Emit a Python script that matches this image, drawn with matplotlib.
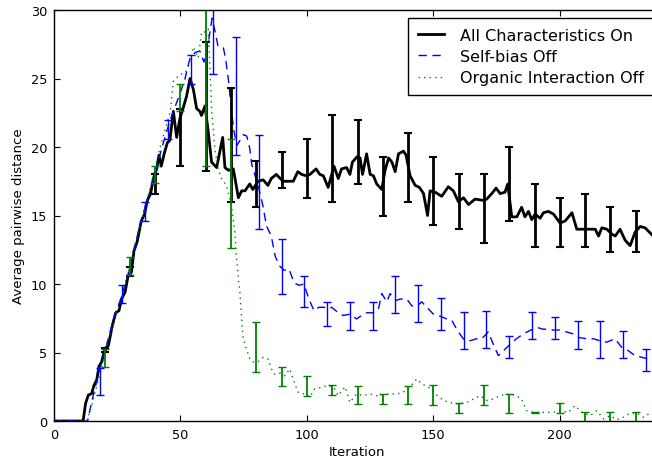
import matplotlib
matplotlib.use("Agg")
import matplotlib.pyplot as plt
import numpy as np

# mean curves (iteration, average pairwise distance)
on_x = [0, 11.5, 12.5, 13.6, 14.9, 15.8, 16.9, 17.8, 18.8, 20.2, 21.5, 23.1, 24.4, 25.7,
        26.7, 28.1, 29.3, 30.6, 31.6, 32.9, 34.5, 35.8, 36.9, 38.2, 39.3, 40.6, 41.5, 42.4,
        43.7, 44.8, 45.8, 47.2, 48.5, 49.8, 51, 52.4, 53.8, 55.1, 56.4, 57.7, 58.3, 59.7,
        61, 62.3, 64.3, 66.7, 67.6, 69, 70.9, 72.9, 74.2, 75.5, 77.4, 78.6, 80.7, 82.7,
        84.6, 85.9, 87.9, 90.5, 93.1, 94.6, 96.4, 97.9, 99.7, 101.2, 103.6, 105.1, 106.5,
        108.4, 110.7, 112.4, 113.7, 115.7, 117, 118, 119.9, 121, 122, 123.6, 125, 126.3,
        127.6, 129.6, 130.9, 132.3, 133.6, 134.9, 136.2, 138.2, 139.2, 140.8, 142.8, 144.5,
        146.1, 147.7, 148.7, 150.7, 153.3, 155.9, 157.9, 159.9, 161.9, 163.9, 166.5, 169.8,
        171.1, 173.1, 174.8, 176.4, 178.3, 179.4, 181, 183, 184.9, 186.2, 187.6, 188.9,
        190.2, 192.2, 193.5, 195.5, 197.5, 200.1, 202.1, 204.8, 206.7, 209.4, 212, 214,
        215.3, 216.6, 218.6, 220.5, 221.9, 223.8, 225.8, 227.8, 229.8, 231.8, 233.7, 236.4]
on_y = [0, 0, 1.3, 1.9, 2.0, 2.6, 3.0, 4.0, 4.3, 5.3, 5.5, 7.0, 7.9, 8.05,
        8.9, 9.4, 10.6, 10.85, 12.4, 13.1, 14.6, 15.1, 16.1, 16.6, 17.7, 18.4, 19.4, 18.6,
        19.6, 20.3, 20.5, 22.6, 20.7, 22.1, 22.8, 23.7, 25.0, 24.2, 22.8, 22.6, 22.3, 23.0,
        21.1, 18.9, 18.5, 20.7, 18.5, 18.3, 18.4, 16.3, 16.8, 16.8, 17.3, 16.9, 17.5, 17.6,
        17.2, 17.7, 18.0, 17.5, 17.5, 17.5, 18.2, 18.0, 17.9, 18.0, 18.4, 18.0, 17.9,
        17.05, 18.6, 17.7, 18.4, 18.5, 18.0, 18.9, 19.3, 19.2, 18.0, 19.5, 18.0, 17.9,
        17.3, 16.9, 18.3, 19.2, 18.9, 18.2, 19.5, 19.7, 19.4, 17.9, 17.2, 17.05,
        16.6, 15.0, 16.8, 16.7, 16.4, 17.1, 16.8, 16.0, 16.3, 15.8, 16.2, 16.1,
        16.2, 16.6, 17.0, 16.6, 16.7, 17.3, 14.9, 14.9, 15.6, 14.9, 15.3, 14.7,
        15.1, 14.8, 15.2, 15.3, 15.1, 14.45, 14.6, 15.2, 14.0, 14.0, 14.0, 14.0,
        13.5, 14.1, 14.0, 13.65, 13.5, 14.0, 13.2, 12.8, 13.8, 14.2, 14.1, 13.6]

selfbias_x = [0, 13.3, 14.9, 16.5, 18, 20, 22, 24, 26, 28, 30, 32, 34, 36, 38, 40, 42, 44,
              46, 48, 50, 51.8, 53.8, 55.8, 57.7, 59.3, 61, 62.5, 63.5, 64.8, 66.9, 67.9,
              69.1, 69.7, 71, 72.3, 74.9, 76.2, 77.4, 78.2, 80.7, 82.5, 84, 85.9, 87.5,
              89.3, 90.9, 92.9, 94.9, 96.9, 98.8, 100.8, 102.8, 104.7, 106.7, 108.7, 109.8,
              112.4, 114.4, 117, 119.6, 121.6, 123.6, 126.3, 128.3, 129.6, 131.6, 132.9,
              135.2, 136.9, 139.5, 141.5, 143.7, 145.4, 147.4, 150, 152, 155.3, 157.3,
              159.2, 161.8, 164.5, 167.1, 169.1, 171.7, 173.7, 175.7, 177.7, 179.8, 182.8,
              185.5, 188.1, 190.8, 193.4, 195.4, 197.4, 200.1, 202.7, 205.4, 207.4, 210.7,
              213.3, 215.8, 218.5, 221.8, 224.5, 227.1, 229.7, 232.4, 235.5]
selfbias_y = [0, 0, 1.4, 2.6, 3.8, 5.0, 6.4, 7.7, 8.7, 9.9, 11.2, 12.8, 14.3, 15.6, 16.8,
              18.2, 19.5, 20.8, 22.0, 23.0, 24.0, 25.0, 26.5, 26.9, 27.0, 26.2, 27.6, 29.4,
              28.6, 27.4, 27.3, 26.4, 24.7, 23.5, 21.3, 20.1, 20.9, 20.8, 19.9, 18.7, 17.2,
              15.8, 14.25, 13.5, 12.0, 11.3, 11.0, 11.1, 10.1, 9.9, 10.0, 8.9, 8.05, 8.3,
              8.3, 8.2, 8.3, 7.9, 7.7, 7.8, 7.45, 7.7, 7.9, 7.9, 8.2, 9.3, 8.7, 9.3, 8.8,
              8.9, 8.9, 8.4, 8.4, 8.7, 8.3, 7.8, 7.7, 7.45, 7.35, 6.7, 6.0, 5.86, 6.0, 6.0,
              6.5, 5.6, 4.77, 5.13, 5.5, 6.0, 6.35, 6.6, 6.84, 6.7, 6.7, 6.64, 6.64, 6.5,
              6.35, 6.1, 6.0, 6.0, 5.86, 5.75, 6.0, 5.37, 5.13, 4.77, 4.65, 4.5]

organic_x = [0, 13, 15, 17, 20, 22, 25, 27, 30, 32, 35, 38, 40, 42, 44, 46, 47.2, 49.8,
             51.8, 53, 55.1, 57, 58.4, 60.3, 61, 61.7, 62.3, 63, 63.6, 64.9, 66.2, 68.2,
             70.2, 71.5, 72.2, 72.8, 73.5, 74.2, 74.8, 76.1, 77.5, 78.8, 80.1, 81.4, 82.7,
             84.7, 86, 87.3, 89.3, 91.3, 93.2, 94.5, 96.5, 99.1, 101.1, 103, 105.7, 108,
             110.5, 112.4, 115.1, 117, 119.6, 122.3, 124.9, 127.6, 131.5, 135.5, 138.1,
             140.8, 143.4, 145.4, 148, 150.7, 153.3, 155.9, 159.9, 163.2, 165.8, 168.5,
             171.1, 173.7, 176.4, 179, 182.3, 184.9, 186.9, 189.5, 193.4, 197.4, 200.1,
             203.4, 206, 208.7, 212, 214.6, 217.3, 219.9, 222.5, 225.2, 227.8, 230.4,
             233.1, 235.7]
organic_y = [0, 0, 1.2, 2.6, 4.8, 6.2, 7.9, 9.3, 11.4, 12.9, 14.9, 17.0, 18.5, 20.0, 21.3,
             22.6, 24.8, 25.3, 25.4, 25.8, 27.3, 26.5, 28.4, 28.4, 28.6, 25.6, 22.8, 21.3,
             19.85, 18.4, 17.7, 17.2, 15.7, 13.8, 11.8, 10.6, 9.4, 7.45, 6.0, 5.26, 4.5,
             4.3, 4.3, 4.4, 4.65, 4.5, 3.8, 3.4, 3.5, 3.3, 3.8, 3.07, 2.1, 1.97, 1.73, 2.34,
             2.46, 2.58, 2.5, 1.85, 2.5, 1.36, 1.97, 1.85, 1.97, 1.85, 1.97, 1.97, 2.1, 2.5,
             3.07, 2.7, 2.5, 1.97, 1.6, 1.36, 1.24, 1.36, 1.6, 1.85, 1.5, 1.6, 1.85, 1.97,
             1.9, 1.6, 0.75, 0.63, 0.63, 0.63, 0.75, 0.63, 1.12, 0.63, 0.39, 0.75, 0.15,
             0.39, 0.1, 0.27, 0.58, 0.58, 0.27, 0.58]

# error bars: position, centre, half-width
on_err_x = [20, 30, 40, 50, 60, 70, 80, 90, 100, 110, 120, 130, 140, 150, 160, 170, 180,
            190, 200, 210, 220, 230]
on_err_mid = [5.2, 10.9, 17.3, 20.7, 22.95, 20.15, 17.3, 18.3, 18.45, 19.15, 19.65, 17.15,
              18.5, 16.8, 16.0, 15.5, 17.3, 15.0, 14.5, 14.65, 13.95, 13.8]
on_err_sd = [0.15, 0.35, 0.7, 2.1, 4.7, 4.15, 1.65, 1.3, 2.15, 3.15, 2.35, 2.15,
             2.5, 2.5, 2.0, 2.5, 2.7, 2.3, 1.8, 1.95, 1.65, 1.5]

selfbias_err_x = [18, 27, 36, 45, 54, 63, 72, 81, 90, 99, 108, 117, 126, 135, 144, 153,
                  162, 171, 180, 189, 198, 207, 216, 225, 234]
selfbias_err_mid = [2.9, 9.25, 15.3, 21.3, 25.65, 29.3, 23.7, 17.45, 11.3, 9.45, 7.8, 7.65,
                    7.65, 9.25, 8.6, 7.8, 6.6, 6.65, 5.4, 6.95, 6.8, 6.27, 5.95, 5.6, 4.45]
selfbias_err_sd = [1.0, 0.65, 0.7, 0.7, 1.05, 4.0, 4.3, 3.45, 2.0, 1.15, 0.85, 1.0,
                   1.0, 1.35, 1.35, 1.15, 1.35, 1.35, 0.8, 0.97, 0.8, 1.0, 1.35, 1.0, 0.8]

organic_err_x = [20, 30, 40, 50, 60, 70, 80, 90, 100, 110, 120, 130, 140, 150, 160, 170,
                 180, 190, 200, 210, 220, 230]
organic_err_mid = [4.6, 11.3, 18.0, 23.6, 26.5, 16.6, 5.4, 3.25, 2.55, 2.25, 1.9, 1.6,
                   1.9, 1.9, 0.94, 1.9, 1.28, 0.6, 0.94, 0.27, 0.27, 0.27]
organic_err_sd = [0.67, 0.67, 0.6, 1.0, 7.9, 4.0, 1.8, 0.67, 0.7, 0.37, 0.67, 0.37,
                  0.67, 0.7, 0.35, 0.7, 0.7, 0.05, 0.35, 0.37, 0.37, 0.37]

fig = plt.figure(figsize=(6.52, 4.64), dpi=100)
ax = fig.add_axes([54 / 652, 42 / 464, 607 / 652, 411 / 464])

ax.plot(on_x, on_y, color="k", lw=2, label="All Characteristics On")
ax.plot(selfbias_x, selfbias_y, color="b", lw=1, ls=(0, (6, 4)), label="Self-bias Off")
ax.plot(organic_x, organic_y, color="g", lw=1, ls=(0, (1, 3)), label="Organic Interaction Off")

ax.errorbar(on_err_x, on_err_mid, yerr=on_err_sd, fmt="none", ecolor="k",
            elinewidth=2, capsize=3, capthick=1.5)
ax.errorbar(selfbias_err_x, selfbias_err_mid, yerr=selfbias_err_sd, fmt="none", ecolor="b",
            elinewidth=1, capsize=3, capthick=1)
ax.errorbar(organic_err_x, organic_err_mid, yerr=organic_err_sd, fmt="none", ecolor="g",
            elinewidth=1.3, capsize=3, capthick=1)

ax.set_xlim(0, 240)
ax.set_ylim(0, 30)
ax.set_xticks([0, 50, 100, 150, 200])
ax.set_yticks([0, 5, 10, 15, 20, 25, 30])
ax.tick_params(direction="in", top=True, right=True, length=4.5, labelsize=9.3, pad=5)
ax.set_xlabel("Iteration", fontsize=9.5, labelpad=3)
ax.set_ylabel("Average pairwise distance", fontsize=9.5)
for s in ax.spines.values():
    s.set_linewidth(1)

leg = ax.legend(loc="upper right", fontsize=11.5, fancybox=False, framealpha=1,
                edgecolor="k", handlelength=1.6, handletextpad=1.0, labelspacing=0.4,
                borderpad=0.6, borderaxespad=0.5)
leg.get_frame().set_linewidth(1)

fig.savefig("out.png", dpi=100)
